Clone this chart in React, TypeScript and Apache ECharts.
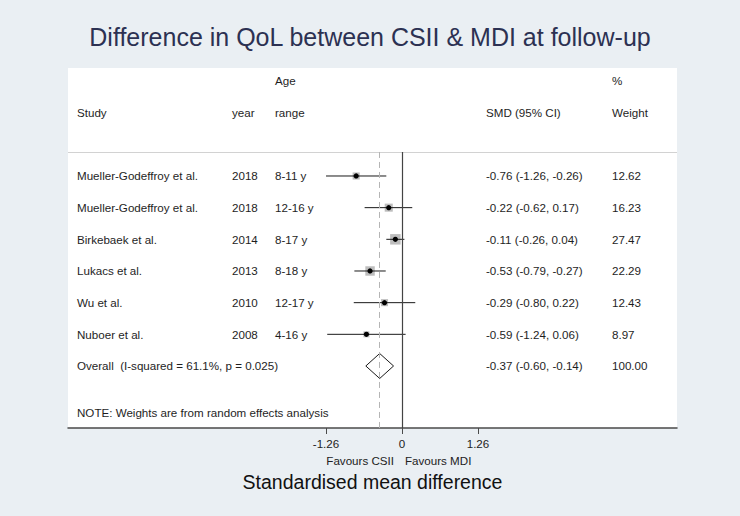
import React, { useEffect, useRef } from "react";
import * as echarts from "echarts";

// ---- data ----
const studies = [
  "Mueller-Godeffroy et al.",
  "Mueller-Godeffroy et al.",
  "Birkebaek et al.",
  "Lukacs et al.",
  "Wu et al.",
  "Nuboer et al.",
];
const years = ["2018", "2018", "2014", "2013", "2010", "2008"];
const ageRanges = ["8-11 y", "12-16 y", "8-17 y", "8-18 y", "12-17 y", "4-16 y"];
const smd = [-0.76, -0.22, -0.11, -0.53, -0.29, -0.59];
const ciLow = [-1.26, -0.62, -0.26, -0.79, -0.8, -1.24];
const ciHigh = [-0.26, 0.17, 0.04, -0.27, 0.22, 0.06];
const weights = [12.62, 16.23, 27.47, 22.29, 12.43, 8.97];
const overallSmd = [-0.37];
const overallLow = [-0.6];
const overallHigh = [-0.14];
const overallLabel = "Overall  (I-squared = 61.1%, p = 0.025)";
const overallWeight = "100.00";
const noteText = "NOTE: Weights are from random effects analysis";
const xTicks = [-1.26, 0, 1.26];
const headerTop = ["", "", "Age", "", "%"];
const headerBottom = ["Study", "year", "range", "SMD (95% CI)", "Weight"];

// ---- layout ----
const FONT = '"Liberation Sans", Arial, Helvetica, sans-serif';
const W = 740;
const H = 516;
const GRID_LEFT = 68;
const GRID_RIGHT = 63;
const GRID_TOP = 68;
const GRID_BOTTOM = 88;
const ZERO_PX = 402;
const PX_PER_UNIT = 60.3;
const X_MIN = (GRID_LEFT - ZERO_PX) / PX_PER_UNIT;
const X_MAX = (W - GRID_RIGHT - ZERO_PX) / PX_PER_UNIT;
const Y_MIN = -2.41;
const Y_MAX = 8.958;
const HEADER_LINE_Y = 0.242;
const pxToX = (px: number) => (px - ZERO_PX) / PX_PER_UNIT;
const COLS = [77, 232, 275, 486, 612].map(pxToX);

const fmt = (v: number) => v.toFixed(2);

export default function App() {
  const ref = useRef<HTMLDivElement>(null);

  useEffect(() => {
    if (!ref.current) return;
    const chart = echarts.init(ref.current, null, { renderer: "svg" });

    type Cell = { x: number; y: number; text: string };
    const cells: Cell[] = [];
    headerTop.forEach((t, c) => t && cells.push({ x: COLS[c], y: -2, text: t }));
    headerBottom.forEach((t, c) => cells.push({ x: COLS[c], y: -1, text: t }));
    studies.forEach((s, i) => {
      const y = i + 1;
      cells.push({ x: COLS[0], y, text: s });
      cells.push({ x: COLS[1], y, text: years[i] });
      cells.push({ x: COLS[2], y, text: ageRanges[i] });
      cells.push({
        x: COLS[3],
        y,
        text: `${fmt(smd[i])} (${fmt(ciLow[i])}, ${fmt(ciHigh[i])})`,
      });
      cells.push({ x: COLS[4], y, text: fmt(weights[i]) });
    });
    const overallRow = studies.length + 1;
    cells.push({ x: COLS[0], y: overallRow, text: overallLabel });
    cells.push({
      x: COLS[3],
      y: overallRow,
      text: `${fmt(overallSmd[0])} (${fmt(overallLow[0])}, ${fmt(overallHigh[0])})`,
    });
    cells.push({ x: COLS[4], y: overallRow, text: overallWeight });
    cells.push({ x: COLS[0], y: 8.48, text: noteText });

    const option: any = {
      animation: false,
      backgroundColor: "#eaeff3",
      title: {
        text: "Difference in QoL between CSII & MDI at follow-up",
        left: "center",
        top: 19,
        textStyle: {
          fontFamily: FONT,
          fontSize: 25,
          fontWeight: "normal",
          color: "#2c3152",
        },
      },
      grid: {
        left: GRID_LEFT,
        right: GRID_RIGHT,
        top: GRID_TOP,
        bottom: GRID_BOTTOM,
        show: true,
        backgroundColor: "#ffffff",
        borderWidth: 0,
      },
      xAxis: {
        type: "value",
        min: X_MIN,
        max: X_MAX,
        position: "bottom",
        splitLine: { show: false },
        axisLine: { show: true, onZero: false, lineStyle: { color: "#4a4a4a", width: 1.5 } },
        axisTick: {
          show: true,
          customValues: xTicks,
          length: 6,
          lineStyle: { color: "#4a4a4a", width: 1 },
        },
        axisLabel: {
          customValues: xTicks,
          formatter: (v: number) => (v === 0 ? "0" : fmt(v)),
          color: "#222",
          fontFamily: FONT,
          fontSize: 11.6,
          margin: 9,
        },
        name: "Standardised mean difference",
        nameLocation: "middle",
        nameGap: 44,
        nameTextStyle: { fontFamily: FONT, fontSize: 19.5, color: "#111" },
      },
      yAxis: {
        type: "value",
        inverse: true,
        min: Y_MIN,
        max: Y_MAX,
        show: false,
      },
      graphic: [
        {
          type: "text",
          x: 394,
          y: 460,
          style: {
            text: "Favours CSII",
            fill: "#222",
            font: `11.6px ${FONT}`,
            align: "right",
            verticalAlign: "middle",
          },
        },
        {
          type: "text",
          x: 405,
          y: 460,
          style: {
            text: "Favours MDI",
            fill: "#222",
            font: `11.6px ${FONT}`,
            align: "left",
            verticalAlign: "middle",
          },
        },
      ],
      series: [
        {
          name: "refLines",
          type: "custom",
          silent: true,
          data: [[0, 0]],
          renderItem: () => ({ type: "group", children: [] }),
          markLine: {
            silent: true,
            symbol: "none",
            label: { show: false },
            animation: false,
            data: [
              [
                { coord: [X_MIN, HEADER_LINE_Y], lineStyle: { color: "#d2d2d2", width: 1.2, type: "solid" } },
                { coord: [X_MAX, HEADER_LINE_Y] },
              ],
              [
                { coord: [overallSmd[0], HEADER_LINE_Y], lineStyle: { color: "#b5b5b5", width: 1, type: [6, 4] } },
                { coord: [overallSmd[0], Y_MAX] },
              ],
              [
                { coord: [0, HEADER_LINE_Y], lineStyle: { color: "#444", width: 1.2, type: "solid" } },
                { coord: [0, Y_MAX] },
              ],
            ],
          },
        },
        {
          name: "table",
          type: "custom",
          silent: true,
          data: cells.map((c) => [c.x, c.y]),
          encode: { x: 0, y: 1 },
          renderItem: (params: any, api: any) => {
            const c = cells[params.dataIndex];
            const p = api.coord([c.x, c.y]);
            return {
              type: "text",
              x: p[0],
              y: p[1],
              style: {
                text: c.text,
                fill: "#1e1e1e",
                font: `11.6px ${FONT}`,
                align: "left",
                verticalAlign: "middle",
              },
            };
          },
        },
        {
          name: "studies",
          type: "custom",
          silent: true,
          data: smd.map((v, i) => [v, ciLow[i], ciHigh[i], weights[i], i + 1]),
          encode: { x: [0, 1, 2], y: 4 },
          renderItem: (params: any, api: any) => {
            const y = api.value(4);
            const pm = api.coord([api.value(0), y]);
            const pl = api.coord([api.value(1), y]);
            const ph = api.coord([api.value(2), y]);
            const side = 2.0 * Math.sqrt(api.value(3));
            return {
              type: "group",
              children: [
                {
                  type: "rect",
                  shape: { x: pm[0] - side / 2, y: pm[1] - side / 2, width: side, height: side },
                  style: { fill: "#bdbdbd" },
                },
                {
                  type: "line",
                  shape: { x1: pl[0], y1: pl[1], x2: ph[0], y2: ph[1] },
                  style: { stroke: "#1a1a1a", lineWidth: 1 },
                },
                {
                  type: "circle",
                  shape: { cx: pm[0], cy: pm[1], r: 2.6 },
                  style: { fill: "#000" },
                },
              ],
            };
          },
        },
        {
          name: "overall",
          type: "custom",
          silent: true,
          data: overallSmd.map((v, i) => [v, overallLow[i], overallHigh[i], studies.length + 1]),
          encode: { x: [0, 1, 2], y: 3 },
          renderItem: (params: any, api: any) => {
            const y = api.value(3);
            const pm = api.coord([api.value(0), y]);
            const pl = api.coord([api.value(1), y]);
            const ph = api.coord([api.value(2), y]);
            const h = 12.5;
            return {
              type: "polygon",
              shape: {
                points: [
                  [pl[0], pl[1]],
                  [pm[0], pm[1] - h],
                  [ph[0], ph[1]],
                  [pm[0], pm[1] + h],
                ],
              },
              style: { fill: "none", stroke: "#1a1a1a", lineWidth: 1 },
            };
          },
        },
      ],
    };

    chart.setOption(option);
    return () => chart.dispose();
  }, []);

  return (
    <div
      ref={ref}
      style={{ position: "fixed", left: 0, top: 0, width: W, height: H }}
    />
  );
}
